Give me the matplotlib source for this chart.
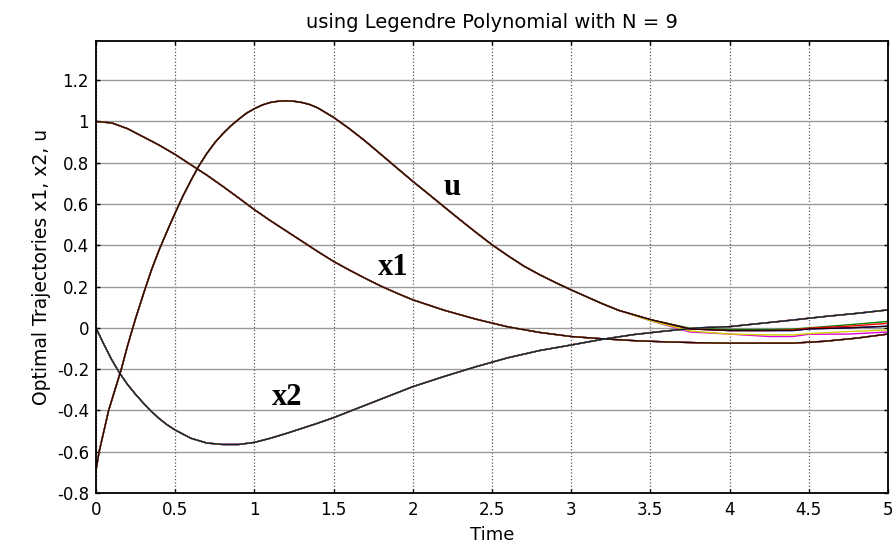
import numpy as np
import matplotlib
matplotlib.use('Agg')
import matplotlib.pyplot as plt

# x1 (state 1)
x1_t = [0, 0.1, 0.2, 0.3, 0.4, 0.5, 0.6, 0.7, 0.8, 0.9, 1.0, 1.1, 1.2, 1.3,
        1.4, 1.5, 1.6, 1.7, 1.8, 1.9, 2.0, 2.2, 2.4, 2.6, 2.8, 3.0, 3.2, 3.4,
        3.6, 3.8, 4.0, 4.2, 4.4, 4.6, 4.8, 5.0]
x1 = [1.0, 0.993, 0.965, 0.925, 0.885, 0.84, 0.79, 0.74, 0.686, 0.63, 0.573,
      0.52, 0.47, 0.42, 0.37, 0.322, 0.28, 0.24, 0.202, 0.168, 0.136, 0.085,
      0.042, 0.005, -0.022, -0.042, -0.053, -0.062, -0.068, -0.072, -0.074,
      -0.074, -0.074, -0.065, -0.05, -0.03]

# x2 (state 2)
x2_t = [0, 0.05, 0.1, 0.15, 0.2, 0.25, 0.3, 0.35, 0.4, 0.45, 0.5, 0.6, 0.7,
        0.8, 0.9, 1.0, 1.1, 1.2, 1.3, 1.4, 1.5, 1.6, 1.7, 1.8, 1.9, 2.0, 2.2,
        2.4, 2.6, 2.8, 3.0, 3.2, 3.4, 3.6, 3.8, 4.0, 4.2, 4.4, 4.6, 4.8, 5.0]
x2 = [0.0, -0.08, -0.155, -0.22, -0.275, -0.322, -0.365, -0.405, -0.44, -0.47,
      -0.495, -0.535, -0.558, -0.565, -0.565, -0.555, -0.535, -0.512, -0.487,
      -0.462, -0.435, -0.405, -0.375, -0.345, -0.315, -0.285, -0.235, -0.188,
      -0.145, -0.11, -0.083, -0.055, -0.032, -0.015, 0.0, 0.006, 0.022, 0.038,
      0.055, 0.07, 0.087]

# u (control), common part up to t = 3.3
u_t = [0, 0.02, 0.05, 0.08, 0.12, 0.16, 0.2, 0.25, 0.3, 0.35, 0.4, 0.45, 0.5,
       0.55, 0.6, 0.65, 0.7, 0.75, 0.8, 0.85, 0.9, 0.95, 1.0, 1.05, 1.1, 1.15,
       1.2, 1.25, 1.3, 1.35, 1.4, 1.5, 1.6, 1.7, 1.8, 1.9, 2.0, 2.1, 2.2, 2.3,
       2.4, 2.5, 2.6, 2.7, 2.8, 2.9, 3.0, 3.1, 3.2, 3.3]
u = [-0.69, -0.6, -0.5, -0.4, -0.3, -0.2, -0.085, 0.045, 0.165, 0.28, 0.38,
     0.47, 0.557, 0.64, 0.715, 0.785, 0.845, 0.897, 0.94, 0.978, 1.01, 1.04,
     1.062, 1.08, 1.092, 1.098, 1.10, 1.098, 1.092, 1.082, 1.066, 1.02, 0.965,
     0.905, 0.84, 0.775, 0.71, 0.648, 0.585, 0.523, 0.462, 0.403, 0.35, 0.3,
     0.258, 0.22, 0.184, 0.15, 0.116, 0.085]

# u tails for the different runs (they spread out after t = 3.5)
tail_t = [3.5, 3.75, 4.0, 4.25, 4.4, 4.5, 4.75, 5.0]
u_tail_blue = [0.04, -0.005, -0.013, -0.013, -0.013, -0.005, 0.0, 0.008]
u_tail_green = [0.04, -0.002, -0.008, -0.008, -0.006, 0.0, 0.015, 0.031]
u_tail_red = [0.04, -0.005, -0.013, -0.013, -0.01, -0.002, 0.008, 0.022]
u_tail_magenta = [0.035, -0.02, -0.03, -0.042, -0.042, -0.031, -0.03, -0.02]
u_tail_yellow = [0.035, -0.015, -0.03, -0.034, -0.034, -0.028, -0.018, -0.01]
u_tail_black = [0.04, -0.005, -0.013, -0.013, -0.013, -0.005, 0.0, 0.008]

runs = [('#0000ff', u_tail_blue), ('#008000', u_tail_green),
        ('#ff0000', u_tail_red), ('#e000e0', u_tail_magenta),
        ('#d0d000', u_tail_yellow)]

fig = plt.figure(figsize=(8.96, 5.48), dpi=100)
ax = fig.add_axes([0.1071, 0.1004, 0.8839, 0.8248])

for cor, tail in runs:
    ax.plot(x1_t, x1, color=cor, lw=1.0)
    ax.plot(x2_t, x2, color=cor, lw=1.0)
    ax.plot(u_t + tail_t, u + tail, color=cor, lw=1.0)

ax.plot(x1_t, x1, color='#2a0808', lw=1.0)
ax.plot(x2_t, x2, color='#0b2440', lw=1.0)
ax.plot(u_t + tail_t, u + u_tail_black, color='#200404', lw=1.0)

ax.set_xlim(0, 5)
ax.set_ylim(-0.8, 1.39)
ax.set_xticks(np.arange(0, 5.01, 0.5))
ax.set_xticklabels(['0', '0.5', '1', '1.5', '2', '2.5', '3', '3.5', '4', '4.5', '5'])
ax.set_yticks(np.arange(-0.8, 1.21, 0.2))
ax.set_yticklabels(['-0.8', '-0.6', '-0.4', '-0.2', '0', '0.2', '0.4', '0.6',
                    '0.8', '1', '1.2'])

ax.xaxis.grid(True, color='#555555', linestyle=':', lw=0.9)
ax.yaxis.grid(True, color='#9a9a9a', linestyle='-', lw=1.0)
ax.set_axisbelow(True)

ax.tick_params(direction='in', length=3, width=1, top=True, right=True,
               labelsize=12)
ax.tick_params(axis='x', pad=6)
ax.tick_params(axis='y', pad=5)
for s in ax.spines.values():
    s.set_linewidth(1.3)

ax.set_title('using Legendre Polynomial with N = 9', fontsize=14, pad=9)
ax.set_xlabel('Time', fontsize=13, labelpad=5)
ax.set_ylabel('Optimal Trajectories x1, x2, u', fontsize=13.5, labelpad=4)

rotulo = dict(fontsize=22, fontweight='bold', family='Liberation Serif',
              ha='center', va='center')
ax.text(2.247, 0.68, 'u', **rotulo)
ax.text(1.875, 0.291, 'x1', **rotulo)
ax.text(1.206, -0.335, 'x2', **rotulo)

fig.savefig('out.png', dpi=100)
